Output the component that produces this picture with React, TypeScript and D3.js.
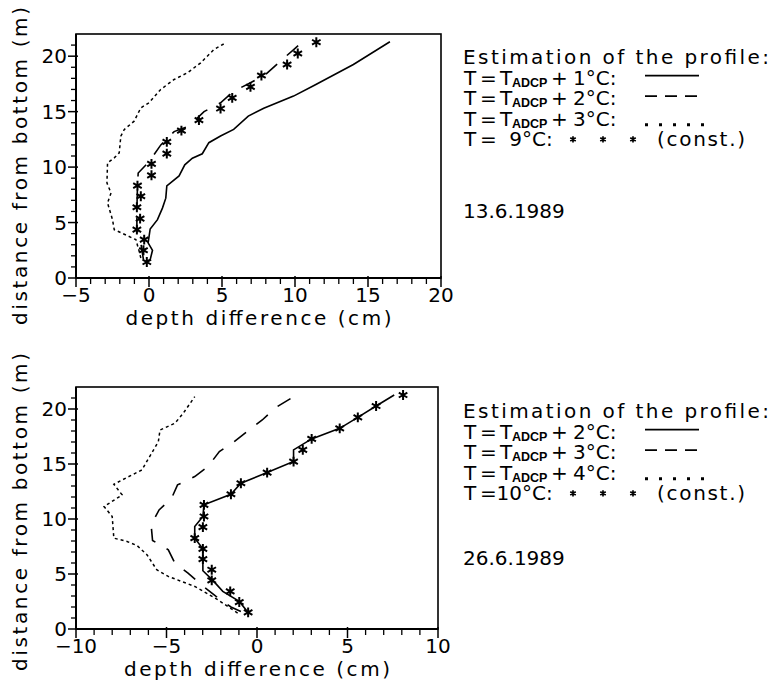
import React from 'react'
import * as d3 from 'd3'

// [depth difference (cm), distance from bottom (m)]
// 13.6.1989
const topPlus1: [number, number][] = [
  [-0.22, 1.5], [0.08, 1.65], [0.24, 2.5], [-0.06, 3.16], [0.08, 4.42], [0.58, 5.26],
  [0.92, 6.3], [1.15, 7.2], [1.22, 8.3], [2.06, 9.2], [2.45, 10.2], [2.97, 10.8],
  [3.65, 11.2], [4.1, 12.2], [4.9, 12.8], [5.8, 13.4], [6.8, 14.6], [7.86, 15.3],
  [9.9, 16.4], [11.3, 17.35], [14.0, 19.25], [16.5, 21.3]
]
const topPlus2: [number, number][] = [
  [-0.38, 1.65], [-0.56, 3.16], [-0.83, 4.36], [-0.83, 6.17], [-0.79, 8.27], [-0.74, 9.47],
  [0.01, 10.5], [0.81, 12.0], [1.72, 13.2], [2.74, 13.7], [3.77, 15.0], [4.9, 15.8],
  [5.8, 16.84], [6.95, 17.6], [7.98, 18.35], [9.0, 19.55], [9.91, 20.6], [10.48, 21.26]
]
const topPlus3: [number, number][] = [
  [-0.56, 1.8], [-0.67, 2.4], [-0.9, 3.46], [-2.38, 4.36], [-2.5, 5.26], [-2.84, 6.77],
  [-2.6, 7.67], [-2.88, 8.57], [-2.84, 10.38], [-2.38, 10.83], [-2.04, 11.28], [-1.93, 12.78],
  [-1.7, 13.38], [-1.02, 14.14], [-0.56, 15.34], [0.0, 15.8], [0.8, 17.0], [1.72, 17.9],
  [2.63, 18.5], [3.54, 19.4], [4.45, 20.6], [5.25, 21.2]
]
const topConst: [number, number][] = [
  [-0.15, 1.44], [-0.38, 2.5], [-0.33, 3.46], [-0.83, 4.36], [-0.61, 5.35], [-0.83, 6.38],
  [-0.56, 7.37], [-0.79, 8.33], [0.17, 9.26], [0.17, 10.29], [1.22, 11.22], [1.22, 12.27],
  [2.22, 13.29], [3.42, 14.23], [4.9, 15.28], [5.7, 16.24], [6.95, 17.23], [7.7, 18.26],
  [9.46, 19.25], [10.19, 20.24], [11.46, 21.26]
]

// 26.6.1989
const botPlus2: [number, number][] = [
  [-0.49, 1.51], [-0.98, 2.51], [-1.89, 3.42], [-2.44, 4.42], [-2.99, 5.3], [-2.99, 6.29],
  [-2.99, 7.29], [-3.44, 8.26], [-3.44, 9.32], [-2.99, 10.23], [-2.93, 11.29], [-1.44, 12.25],
  [-0.89, 13.25], [0.56, 14.22], [2.02, 15.22], [2.02, 16.28], [3.02, 17.28], [4.57, 18.24],
  [5.57, 19.24], [6.58, 20.27], [7.58, 21.27]
]
const botPlus3: [number, number][] = [
  [-0.89, 1.6], [-1.44, 2.0], [-2.26, 2.97], [-3.08, 4.02], [-3.81, 5.08], [-4.54, 5.99],
  [-4.9, 7.2], [-5.77, 8.05], [-5.85, 9.47], [-5.41, 10.83], [-4.72, 11.89], [-4.39, 13.1],
  [-3.44, 13.86], [-2.71, 14.77], [-2.08, 16.13], [-1.26, 17.03], [-0.44, 18.09], [0.29, 19.0],
  [1.02, 20.12], [1.88, 20.97]
]
const botPlus4: [number, number][] = [
  [-1.07, 1.45], [-2.17, 2.66], [-3.44, 3.87], [-4.9, 4.78], [-5.54, 5.39], [-6.08, 6.75],
  [-6.63, 7.59], [-7.18, 7.96], [-7.91, 8.26], [-8.0, 10.23], [-8.45, 11.13], [-7.45, 12.19],
  [-7.91, 13.16], [-6.36, 14.46], [-5.45, 17.03], [-5.36, 18.09], [-4.54, 18.7], [-4.08, 19.6],
  [-3.44, 21.12]
]
const botConst: [number, number][] = [
  [-0.49, 1.51], [-0.98, 2.45], [-1.48, 3.42], [-2.5, 4.42], [-2.5, 5.39], [-2.99, 6.35],
  [-2.99, 7.29], [-3.44, 8.26], [-2.99, 9.26], [-2.93, 10.23], [-2.93, 11.29], [-1.44, 12.25],
  [-0.89, 13.25], [0.56, 14.22], [2.02, 15.22], [2.53, 16.28], [3.02, 17.28], [4.57, 18.24],
  [5.57, 19.24], [6.58, 20.27], [8.07, 21.27]
]

const topXTicks = [-5, 0, 5, 10, 15, 20]
const botXTicks = [-10, -5, 0, 5, 10]
const yTicks = [0, 5, 10, 15, 20]
const topOffsets = ['1', '2', '3']
const botOffsets = ['2', '3', '4']

const FONT = 'DejaVu Sans, sans-serif'
const DASH = '15,13'
const DOT = '3,3'

type Pt = [number, number]
type Box = { left: number; right: number; top: number; bottom: number }

const fmt = (v: number) => (v < 0 ? '\u2212' + Math.abs(v) : String(v))

function Star({ x, y, size, w = 1.9 }: { x: number; y: number; size: number; w?: number }) {
  const d = d3.symbol().type(d3.symbolAsterisk).size(size)() || ''
  return <path d={d} transform={`translate(${x},${y})`} fill="none" stroke="#000" strokeWidth={w} />
}

function Legend({ x, y0, offsets, constTemp, date, dateY }: { x: number; y0: number; offsets: string[]; constTemp: string; date: string; dateY: number }) {
  const rowH = 20.6
  const styles = [{ dash: undefined }, { dash: '12,8' }, { dash: '3,11' }]
  const r5 = y0 + rowH * 4
  // right-align the constant temperature digits against "°C:"
  const constX = x + 59 - 12.72 * constTemp.length
  return (
    <g fontFamily={FONT} fontSize={20} fill="#000">
      <text x={x} y={y0} textLength={306} lengthAdjust="spacing">Estimation of the profile:</text>
      {offsets.map((o, i) => {
        const by = y0 + rowH * (i + 1)
        return (
          <g key={o}>
            <text x={x + 1} y={by}>T</text>
            <text x={x + 17} y={by}>=</text>
            <text x={x + 37} y={by}>T</text>
            <text x={x + 49} y={by + 2} fontSize={12.5} fontWeight="bold" fontFamily="Liberation Sans, Arial, sans-serif">ADCP</text>
            <text x={x + 88} y={by}>+</text>
            <text x={x + 110} y={by}>{o}°C:</text>
            <line x1={x + 182} x2={x + (i === 2 ? 250 : 236)} y1={i === 2 ? by - 1 : by - 9} y2={i === 2 ? by - 1 : by - 9}
              stroke="#000" strokeWidth={i === 2 ? 3 : 1.8} strokeDasharray={styles[i].dash} />
          </g>
        )
      })}
      <text x={x + 1} y={r5}>T</text>
      <text x={x + 17} y={r5}>=</text>
      <text x={constX} y={r5}>{constTemp}°C:</text>
      {[0, 1, 2].map(k => <Star key={k} x={x + 110 + 30 * k} y={r5 - 7} size={28} w={1.7} />)}
      <text x={x + 194} y={r5} textLength={88} lengthAdjust="spacing">(const.)</text>
      <text x={x} y={dateY}>{date}</text>
    </g>
  )
}

function Panel({ box, xDomain, xTicks, solid, dashed, dotted, stars, labelY }: {
  box: Box; xDomain: [number, number]; xTicks: number[]; solid: Pt[]; dashed: Pt[]; dotted: Pt[]; stars: Pt[]; labelY: number
}) {
  const x = d3.scaleLinear().domain(xDomain).range([box.left, box.right])
  const y = d3.scaleLinear().domain([0, 22]).range([box.bottom, box.top])
  const line = d3.line<Pt>().x(d => x(d[0])).y(d => y(d[1]))
  const xMinor = d3.range(xDomain[0] + 1, xDomain[1], 1).filter(v => v % 5 !== 0)
  const yMinor = d3.range(1, 22, 1).filter(v => v % 5 !== 0)
  const cx = (box.left + box.right) / 2
  return (
    <g>
      <rect x={box.left} y={box.top} width={box.right - box.left} height={box.bottom - box.top} fill="none" stroke="#000" strokeWidth={1.6} />
      <line x1={box.left} x2={box.right} y1={box.bottom} y2={box.bottom} stroke="#000" strokeWidth={2} />
      <line x1={box.left} x2={box.left} y1={box.top} y2={box.bottom} stroke="#000" strokeWidth={2} />
      {xMinor.map(v => <line key={'xm' + v} x1={x(v)} x2={x(v)} y1={box.bottom} y2={box.bottom + 6} stroke="#000" strokeWidth={1.3} />)}
      {xTicks.map(v => <line key={'xM' + v} x1={x(v)} x2={x(v)} y1={box.bottom - 2} y2={box.bottom + 9} stroke="#000" strokeWidth={1.5} />)}
      {yMinor.map(v => <line key={'ym' + v} x1={box.left - 5} x2={box.left} y1={y(v)} y2={y(v)} stroke="#000" strokeWidth={1.3} />)}
      {yTicks.map(v => <line key={'yM' + v} x1={box.left - 8} x2={box.left + 2} y1={y(v)} y2={y(v)} stroke="#000" strokeWidth={1.5} />)}
      <g fontFamily={FONT} fontSize={20} fill="#000">
        {xTicks.map(v => <text key={'xl' + v} x={x(v)} y={box.bottom + 24} textAnchor="middle">{fmt(v)}</text>)}
        {yTicks.map(v => <text key={'yl' + v} x={box.left - 9} y={y(v) + 7} textAnchor="end">{v}</text>)}
        <text x={cx} y={box.bottom + 47} textAnchor="middle" textLength={266} lengthAdjust="spacing">depth difference (cm)</text>
        <text transform={`translate(27,${labelY}) rotate(-90)`} textAnchor="middle" textLength={318} lengthAdjust="spacing">distance from bottom (m)</text>
      </g>
      <path d={line(solid) || ''} fill="none" stroke="#000" strokeWidth={1.6} />
      <path d={line(dashed) || ''} fill="none" stroke="#000" strokeWidth={1.6} strokeDasharray={DASH} />
      <path d={line(dotted) || ''} fill="none" stroke="#000" strokeWidth={1.5} strokeDasharray={DOT} />
      {stars.map((d, i) => <Star key={i} x={x(d[0])} y={y(d[1])} size={68} w={2} />)}
    </g>
  )
}

export default function App() {
  return (
    <svg width={772} height={681} style={{ position: 'absolute', left: 0, top: 0, background: '#fff' }}>
      <rect width={772} height={681} fill="#fff" />
      <Panel box={{ left: 76, right: 441, top: 34, bottom: 278 }} xDomain={[-5, 20]} xTicks={topXTicks}
        solid={topPlus1} dashed={topPlus2} dotted={topPlus3} stars={topConst} labelY={166} />
      <Panel box={{ left: 76, right: 438, top: 387, bottom: 629 }} xDomain={[-10, 10]} xTicks={botXTicks}
        solid={botPlus2} dashed={botPlus3} dotted={botPlus4} stars={botConst} labelY={512} />
      <Legend x={463} y0={64} offsets={topOffsets} constTemp="9" date="13.6.1989" dateY={218} />
      <Legend x={463} y0={418} offsets={botOffsets} constTemp="10" date="26.6.1989" dateY={565} />
    </svg>
  )
}
